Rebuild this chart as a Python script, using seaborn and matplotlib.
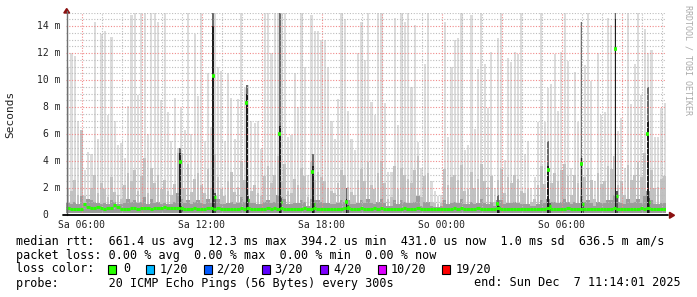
import numpy as np
import pandas as pd
import matplotlib
matplotlib.use("Agg")
import matplotlib.pyplot as plt
import seaborn as sns
from matplotlib.patches import Rectangle, Polygon
from matplotlib.lines import Line2D

# ---------------- data (10-minute bins starting Sa 05:14, values in ms) ----------------
start_minute = 314          # Sa 05:14 expressed in minutes since Sa 00:00
bin_minutes = 10

ping_max = [
    11.0, 12.0, 11.8, 7.0, 6.2, 3.3, 4.7, 4.5, 14.3, 5.6, 13.4, 13.6, 7.4, 13.2, 7.0, 5.2, 5.3, 4.2, 8.1, 14.8,
    15, 8.9, 15, 15, 6.0, 15, 15, 14.3, 8.5, 15, 7.6, 5.5, 8.7, 5.0, 7.9, 6.3, 15, 6.0, 13.4, 8.8,
    15, 5.5, 10.5, 6.5, 15, 11.0, 10.7, 5.5, 10.5, 8.7, 5.6, 8.6, 15, 9.4, 9.6, 7.0, 6.8, 7.0, 4.9, 15,
    15, 12.0, 15, 15, 15, 15, 5.8, 5.9, 10.5, 8.0, 15, 11.0, 3.0, 14.8, 13.6, 13.6, 13.0, 13.0, 11.0, 7.0,
    5.6, 8.6, 15, 14.5, 7.7, 5.6, 4.8, 12.0, 14.3, 11.5, 15, 8.4, 7.4, 15, 15, 8.3, 3.2, 3.2, 14.6, 6.7,
    15, 14.3, 15, 9.5, 14.1, 5.4, 3.5, 11.2, 15, 2.5, 1.8, 1.4, 1.5, 14.3, 5.8, 11.0, 13.0, 13.1, 15, 4.8,
    5.2, 14.8, 6.4, 10.8, 15, 11.2, 7.9, 12.1, 2.0, 13.1, 15, 4.1, 11.6, 11.3, 12.1, 11.9, 15, 4.5, 5.5, 2.0,
    2.8, 6.9, 15, 6.9, 9.4, 9.7, 11.9, 7.7, 12.1, 15, 11.4, 3.5, 10.6, 6.9, 14.3, 11.1, 15, 9.9, 2.5, 12.0,
    7.4, 7.6, 14.6, 14.1, 15, 6.2, 7.2, 3.5, 15, 8.2, 11.2, 15, 8.9, 13.8, 12.0, 12.2, 5.8, 5.8, 7.9, 8.3,
]

ping_p90 = [
    2.0, 1.8, 2.6, 1.5, 6.3, 1.4, 1.2, 2.0, 3.0, 1.6, 2.4, 1.9, 1.3, 2.8, 1.7, 1.5, 1.2, 2.2, 3.1, 2.5,
    3.3, 1.8, 2.9, 4.2, 1.6, 3.5, 2.4, 3.0, 1.9, 2.6, 1.8, 1.5, 2.3, 4.6, 4.6, 2.0, 3.8, 1.7, 2.7, 3.1,
    2.2, 1.6, 3.4, 2.0, 4.5, 2.8, 1.9, 1.4, 2.5, 3.2, 1.7, 2.1, 4.0, 2.6, 3.0, 1.8, 2.2, 1.6, 1.4, 2.9,
    3.6, 2.4, 3.0, 4.4, 2.5, 3.8, 1.8, 1.6, 2.7, 2.2, 3.5, 2.9, 1.3, 3.9, 2.6, 3.2, 2.8, 2.5, 2.0, 1.8,
    1.6, 2.4, 3.3, 3.0, 2.1, 1.7, 1.5, 2.6, 3.4, 2.5, 3.9, 2.2, 1.9, 3.1, 4.0, 2.4, 1.2, 1.3, 3.6, 1.9,
    3.5, 3.0, 2.7, 2.4, 3.3, 4.4, 1.3, 2.9, 3.1, 1.0, 0.9, 0.8, 0.9, 3.4, 2.2, 2.8, 3.0, 2.6, 3.7, 1.8,
    1.9, 3.2, 2.0, 2.7, 3.8, 2.5, 2.1, 2.9, 1.0, 2.6, 3.4, 1.6, 2.8, 2.4, 3.0, 2.7, 1.8, 1.6, 1.9, 1.0,
    1.2, 2.2, 3.6, 2.3, 2.9, 2.4, 3.1, 2.5, 3.3, 3.8, 2.9, 1.5, 3.0, 2.4, 4.2, 2.8, 3.5, 2.6, 1.2, 3.1,
    2.3, 2.5, 3.6, 3.4, 4.4, 2.2, 2.5, 1.5, 3.7, 2.6, 3.0, 3.9, 2.8, 4.6, 5.5, 3.3, 2.0, 2.1, 2.7, 2.9,
]

ping_p75 = [
    0.9, 0.8, 1.0, 0.8, 1.4, 0.9, 1.2, 1.1, 1.0, 0.9, 0.8, 0.9, 0.8, 1.1, 1.0, 0.8, 0.8, 0.9, 1.2, 1.0,
    1.1, 0.9, 1.0, 1.3, 0.8, 1.2, 0.9, 1.0, 0.8, 0.9, 0.8, 0.8, 1.0, 1.6, 1.2, 0.9, 1.1, 0.8, 1.0, 1.1,
    0.9, 0.8, 1.2, 0.9, 1.4, 1.2, 0.8, 0.8, 0.9, 1.0, 0.8, 0.9, 1.3, 1.0, 1.2, 0.9, 0.9, 0.8, 0.8, 1.0,
    1.1, 0.9, 1.0, 1.5, 1.3, 1.2, 0.8, 0.8, 0.9, 0.9, 1.1, 1.0, 0.7, 1.2, 1.1, 1.1, 1.0, 0.9, 0.9, 0.8,
    0.8, 0.9, 1.1, 1.0, 1.1, 0.8, 0.8, 0.9, 1.1, 0.9, 1.2, 0.9, 0.8, 1.0, 1.2, 0.9, 0.7, 0.7, 1.1, 0.8,
    1.1, 1.0, 0.9, 0.9, 1.0, 1.4, 0.7, 1.0, 1.0, 0.7, 0.6, 0.6, 0.7, 1.1, 0.8, 0.9, 1.0, 0.9, 1.2, 0.8,
    0.8, 1.0, 0.8, 0.9, 1.2, 0.9, 0.8, 1.0, 0.7, 1.1, 1.1, 0.8, 0.9, 0.9, 1.0, 0.9, 0.8, 0.8, 0.8, 0.7,
    0.7, 0.8, 1.1, 0.9, 1.2, 1.0, 1.0, 0.9, 1.0, 1.2, 1.0, 0.8, 1.0, 0.9, 1.4, 1.0, 1.1, 0.9, 0.7, 1.0,
    0.9, 0.9, 1.1, 1.1, 1.5, 1.0, 0.9, 0.8, 1.2, 0.9, 1.0, 1.2, 0.9, 1.4, 1.8, 1.1, 0.8, 0.8, 0.9, 0.9,
]

median_rtt = [
    0.50, 0.45, 0.47, 0.44, 0.46, 0.85, 0.62, 0.55, 0.50, 0.60, 0.52, 0.48, 0.55, 0.50, 0.75, 0.58, 0.45, 0.44, 0.47, 0.50,
    0.52, 0.48, 0.50, 0.55, 0.49, 0.47, 0.51, 0.53, 0.50, 0.56, 0.52, 0.49, 0.50, 0.54, 0.50, 0.46, 0.44, 0.47, 0.49, 0.45,
    0.48, 0.44, 0.50, 0.52, 0.47, 0.55, 0.45, 0.44, 0.46, 0.44, 0.48, 0.45, 0.50, 0.47, 0.49, 0.46, 0.44, 0.47, 0.45, 0.48,
    0.50, 0.46, 0.52, 0.48, 0.55, 0.45, 0.47, 0.44, 0.46, 0.45, 0.48, 0.50, 0.44, 0.47, 0.52, 0.46, 0.45, 0.48, 0.44, 0.46,
    0.47, 0.44, 0.48, 0.50, 0.55, 0.46, 0.47, 0.45, 0.49, 0.44, 0.46, 0.48, 0.50, 0.47, 0.55, 0.45, 0.44, 0.46, 0.48, 0.45,
    0.47, 0.50, 0.44, 0.46, 0.48, 0.52, 0.45, 0.43, 0.47, 0.44, 0.45, 0.42, 0.44, 0.48, 0.46, 0.45, 0.50, 0.47, 0.52, 0.46,
    0.44, 0.47, 0.45, 0.49, 0.46, 0.48, 0.44, 0.46, 0.45, 0.50, 0.47, 0.44, 0.46, 0.48, 0.45, 0.46, 0.44, 0.47, 0.45, 0.43,
    0.45, 0.44, 0.48, 0.46, 0.50, 0.47, 0.45, 0.48, 0.44, 0.46, 0.49, 0.45, 0.47, 0.44, 0.48, 0.46, 0.45, 0.47, 0.44, 0.46,
    0.45, 0.47, 0.44, 0.48, 0.52, 0.46, 0.44, 0.45, 0.47, 0.46, 0.44, 0.47, 0.49, 0.45, 0.50, 0.46, 0.44, 0.45, 0.47, 0.45,
]

ping_floor = 0.15

# short 5-minute latency spikes (start minute since Sa 00:00)
spike_start = [653, 752, 853, 952, 1051, 1152, 1606, 1757, 1857, 1959, 2056]
spike_median = [3.95, 10.3, 8.3, 6.0, 3.2, 1.0, 0.8, 3.3, 3.8, 12.3, 6.0]
spike_core_top = [4.6, 14.0, 9.0, 6.6, 3.6, 1.2, 1.0, 3.6, 4.2, 14.5, 7.0]
spike_gray_top = [5.0, 15.0, 9.6, 15.0, 4.5, 2.0, 1.5, 5.5, 14.3, 15.0, 9.5]
spike_next_median = [0.55, 1.3, 1.1, 1.0, 0.8, 0.6, 0.55, 0.7, 0.8, 1.4, 1.0]

y_ticks = [0, 2, 4, 6, 8, 10, 12, 14]
y_tick_labels = ["0  ", "2 m", "4 m", "6 m", "8 m", "10 m", "12 m", "14 m"]
x_ticks = [360, 720, 1080, 1440, 1800]
x_tick_labels = ["Sa 06:00", "Sa 12:00", "Sa 18:00", "So 00:00", "So 06:00"]

loss_labels = ["0", "1/20", "2/20", "3/20", "4/20", "10/20", "19/20"]
loss_colors = ["#26ff00", "#00b8ff", "#0059ff", "#5e00ff", "#7e00ff", "#dd00ff", "#ff0000"]

# ---------------- figure ----------------
sns.set_theme(style="white")
plt.rcParams["font.family"] = ["DejaVu Sans Mono", "DejaVu Sans"]

W, H = 697, 297
fig = plt.figure(figsize=(W / 100, H / 100), dpi=100)
fig.patch.set_facecolor("white")


def fx(x):
    return x / W


def fy(y):
    return 1 - y / H


ax = fig.add_axes([fx(66.4), fy(215), 600 / W, 202.5 / H])
ax.set_facecolor("white")

n = len(ping_max)
centers = start_minute + bin_minutes * np.arange(n) + bin_minutes / 2
df = pd.DataFrame({
    "t": centers,
    "max": ping_max,
    "p90": ping_p90,
    "p75": ping_p75,
    "floor": [ping_floor] * n,
})

layers = [("max", "#dcdcdc", 0.66), ("p90", "#c2c2c2", 0.8),
          ("p75", "#9c9c9c", 1.0), ("floor", "#ffffff", 1.0)]
for col, colr, wd in layers:
    sns.barplot(data=df, x="t", y=col, native_scale=True, width=wd, color=colr,
                saturation=1, linewidth=0, errorbar=None, ax=ax, antialiased=False)

# spikes
ss = np.array(spike_start, dtype=float)
ax.bar(ss, np.array(spike_gray_top) - ping_floor, bottom=ping_floor, width=5, align="edge",
       color="#6a6a6a", linewidth=0, zorder=2)
ax.bar(ss, np.array(spike_core_top) - ping_floor, bottom=ping_floor, width=5, align="edge",
       color="#1c1c1c", linewidth=0, zorder=2.1)
ax.bar(ss + 5, np.array(spike_next_median) * 1.25 - ping_floor, bottom=ping_floor, width=5,
       align="edge", color="#555555", linewidth=0, zorder=2.1)

# grid
for m in np.arange(360, 2114, 60):
    major = (m - 360) % 180 == 0
    ax.axvline(m, color="#f08a8a" if major else "#bdbdbd", lw=0.8,
               linestyle=(0, (1, 1.5)), zorder=3)
for v in np.arange(0.5, 15.01, 0.5):
    major = abs(v % 2) < 1e-9
    ax.axhline(v, color="#f08a8a" if major else "#bdbdbd", lw=0.8,
               linestyle=(0, (1, 1.5)), zorder=3)

# median
lefts = centers - bin_minutes / 2
ax.hlines(median_rtt, lefts, lefts + bin_minutes, colors="#26ff00", lw=2.2, zorder=4)
ax.hlines(spike_median, ss - 2, ss + 7, colors="#26ff00", lw=2.6, zorder=4.1)
ax.hlines(spike_next_median, ss + 5, ss + 10, colors="#26ff00", lw=2.4, zorder=4.1)

ax.set_xlim(start_minute, start_minute + bin_minutes * n)
ax.set_ylim(0, 15)
ax.set_xticks([])
ax.set_yticks([])
ax.set_xlabel("")
ax.set_ylabel("")
for s in ax.spines.values():
    s.set_visible(False)
ax.grid(False)

# axes lines and arrows
fig.add_artist(Line2D([fx(66.7), fx(66.7)], [fy(215), fy(11)], color="#707070", lw=1.0))
fig.add_artist(Line2D([fx(63), fx(668)], [fy(215.3), fy(215.3)], color="#000000", lw=1.3))
fig.add_artist(Polygon([[fx(66.7), fy(8.5)], [fx(63.8), fy(13)], [fx(69.6), fy(13)]],
                       closed=True, color="#8b1010", transform=fig.transFigure))
fig.add_artist(Polygon([[fx(674.5), fy(215.3)], [fx(669.5), fy(212.3)], [fx(669.5), fy(218.3)]],
                       closed=True, color="#8b1010", transform=fig.transFigure))

# tick labels
for v, lab in zip(y_ticks, y_tick_labels):
    yp = 215 - v * 13.5
    fig.text(fx(60.5), fy(yp), lab, ha="right", va="center", fontsize=7, color="#222222")
for m, lab in zip(x_ticks, x_tick_labels):
    xp = 66.4 + (m - start_minute) / 3.0
    fig.text(fx(xp), fy(225.5), lab, ha="center", va="center", fontsize=7, color="#222222")

fig.text(fx(10.5), fy(114), "Seconds", rotation=90, ha="center", va="center", fontsize=8,
         color="#222222")
fig.text(fx(688), fy(5), "RRDTOOL / TOBI OETIKER", rotation=270, ha="center", va="top",
         fontsize=6, color="#aaaaaa")

# legend / summary text
fs = 8.5
fig.text(fx(16), fy(241), "median rtt:  661.4 us avg  12.3 ms max  394.2 us min  431.0 us now  1.0 ms sd  636.5 m am/s",
         ha="left", va="center", fontsize=fs, color="black")
fig.text(fx(16), fy(255), "packet loss: 0.00 % avg  0.00 % max  0.00 % min  0.00 % now",
         ha="left", va="center", fontsize=fs, color="black")
fig.text(fx(16), fy(269), "loss color:", ha="left", va="center", fontsize=fs, color="black")
box_x = [108, 146, 204, 262, 320, 378, 442]
lab_x = [123, 160, 216, 274, 333, 391, 456]
for bx, lx, lab, col in zip(box_x, lab_x, loss_labels, loss_colors):
    fig.add_artist(Rectangle((fx(bx), fy(273.5)), 8 / W, 9 / H, transform=fig.transFigure,
                             facecolor=col, edgecolor="black", lw=0.8))
    fig.text(fx(lx), fy(269), lab, ha="left", va="center", fontsize=fs, color="black")
fig.text(fx(16), fy(283), "probe:       20 ICMP Echo Pings (56 Bytes) every 300s",
         ha="left", va="center", fontsize=fs, color="black")
fig.text(fx(681), fy(283), "end: Sun Dec  7 11:14:01 2025", ha="right", va="center",
         fontsize=fs, color="black")

fig.savefig("out.png", dpi=100, facecolor="white")
